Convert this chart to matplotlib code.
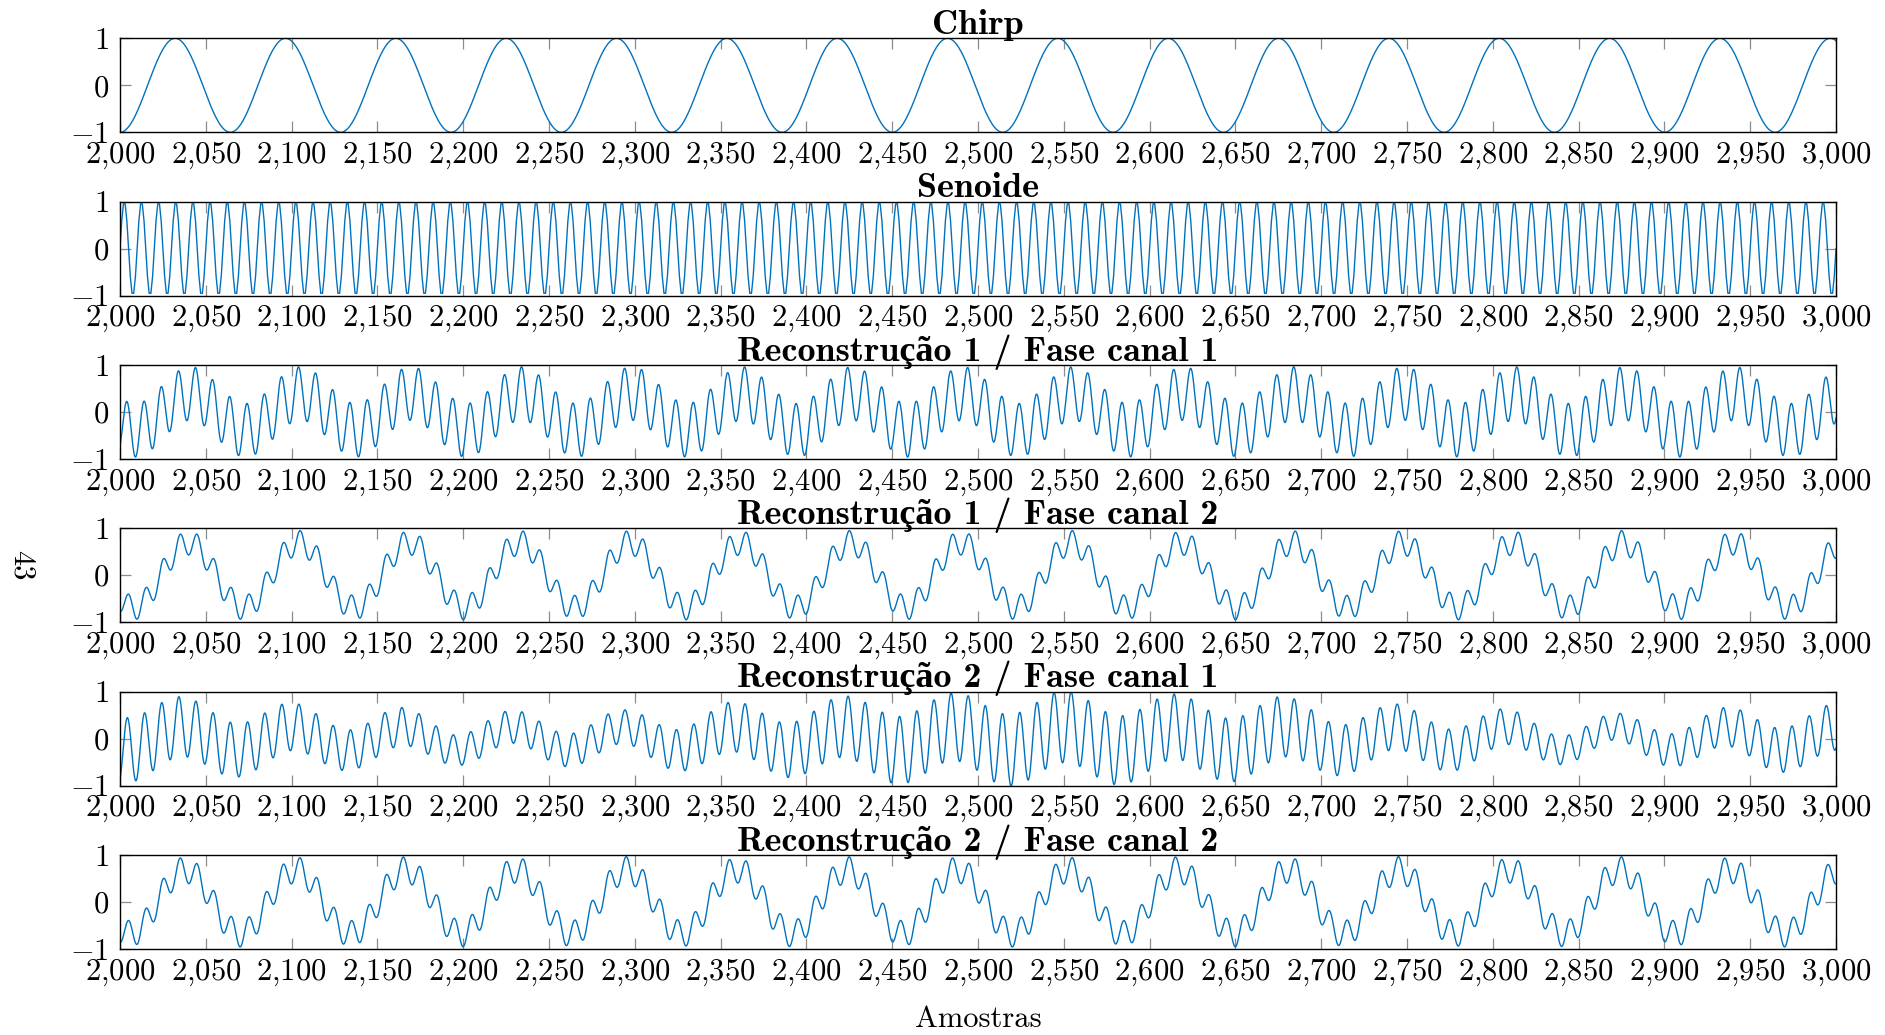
import numpy as np
import matplotlib
matplotlib.use('Agg')
import matplotlib.pyplot as plt

plt.rcParams['mathtext.fontset'] = 'cm'
plt.rcParams['font.family'] = ['cmr10', 'DejaVu Serif']
plt.rcParams['axes.unicode_minus'] = False

# ---------------- data ----------------
titles = ["Chirp", "Senoide",
          "Reconstrução 1 / Fase canal 1",
          "Reconstrução 1 / Fase canal 2",
          "Reconstrução 2 / Fase canal 1",
          "Reconstrução 2 / Fase canal 2"]
x_label = "Amostras"
page_number = "43"

sample_start = 2000
sample_end = 3000

x_ticks = [2000, 2050, 2100, 2150, 2200, 2250, 2300, 2350, 2400, 2450, 2500,
           2550, 2600, 2650, 2700, 2750, 2800, 2850, 2900, 2950, 3000]
x_tick_labels = ["2,000", "2,050", "2,100", "2,150", "2,200", "2,250", "2,300",
                 "2,350", "2,400", "2,450", "2,500", "2,550", "2,600", "2,650",
                 "2,700", "2,750", "2,800", "2,850", "2,900", "2,950", "3,000"]
y_ticks = [-1, 0, 1]
y_tick_labels = ["-1", "0", "1"]

# periods (samples) measured on the picture
chirp_period = 64.3
sine_period = 10.0

# slow (chirp-like) component: amplitude and sample of a crest, per panel
slow_amp = {"rec1_c1": 0.39, "rec1_c2": 0.69, "rec2_c1": 0.25, "rec2_c2": 0.68}
slow_crest = {"rec1_c1": 2041, "rec1_c2": 2040, "rec2_c1": 2036, "rec2_c2": 2038}
# fast (sine-like) component: crest sample per panel
fast_crest = {"rec1_c1": 2004.0, "rec1_c2": 2005.0, "rec2_c1": 2004.3, "rec2_c2": 2005.0}
# fast component amplitude envelope read at several samples
fast_env_t = {
    "rec1_c1": [2000, 3000],
    "rec1_c2": [2000, 3000],
    "rec2_c1": [2000, 2036, 2074, 2104, 2134, 2164, 2195, 2225, 2255, 2295, 2325,
                2355, 2385, 2425, 2450, 2485, 2510, 2544, 2579, 2609, 2640, 2674,
                2706, 2737, 2769, 2804, 2834, 2869, 2899, 2930, 2960, 3000],
    "rec2_c2": [2000, 3000],
}
fast_env_a = {
    "rec1_c1": [0.57, 0.57],
    "rec1_c2": [0.26, 0.26],
    "rec2_c1": [0.70, 0.64, 0.56, 0.50, 0.43, 0.41, 0.32, 0.35, 0.35, 0.36, 0.44,
                0.53, 0.57, 0.66, 0.72, 0.72, 0.76, 0.77, 0.74, 0.70, 0.68, 0.66,
                0.55, 0.49, 0.46, 0.39, 0.31, 0.28, 0.34, 0.40, 0.46, 0.50],
    "rec2_c2": [0.28, 0.28],
}
panel_keys = [None, None, "rec1_c1", "rec1_c2", "rec2_c1", "rec2_c2"]

# ---------------- signals ----------------
t_dense = np.linspace(sample_start, sample_end, 10001)
n_int = np.arange(sample_start, sample_end + 1)

signals = []
signals.append((t_dense, -np.cos(2 * np.pi * (t_dense - sample_start) / chirp_period)))
signals.append((n_int, np.sin(2 * np.pi * (n_int - sample_start) / sine_period)))
for key in panel_keys[2:]:
    slow = slow_amp[key] * np.cos(2 * np.pi * (t_dense - slow_crest[key]) / chirp_period)
    env = np.interp(t_dense, fast_env_t[key], fast_env_a[key])
    fast = env * np.cos(2 * np.pi * (t_dense - fast_crest[key]) / sine_period)
    signals.append((t_dense, slow + fast))

# ---------------- figure ----------------
W, H = 1885, 1035
fig = plt.figure(figsize=(W / 100, H / 100), dpi=100)

left_px, right_px = 120, 1836
top0_px, step_px, height_px = 38.3, 163.3, 94.0
line_color = "#0072BD"
fs = 22
title_fs = 26

def mt(s):
    return r"$" + s.replace(",", "{,}") + r"$"

for i, (title, (x, y)) in enumerate(zip(titles, signals)):
    top = top0_px + i * step_px
    ax = fig.add_axes([left_px / W, 1 - (top + height_px) / H,
                       (right_px - left_px) / W, height_px / H])
    ax.plot(x, y, color=line_color, lw=1.0)
    ax.set_xlim(sample_start, sample_end)
    ax.set_ylim(-1, 1)
    ax.set_xticks(x_ticks)
    ax.set_xticklabels([mt(s) for s in x_tick_labels])
    ax.set_yticks(y_ticks)
    ax.set_yticklabels([mt(s) for s in y_tick_labels])
    ax.tick_params(direction="in", length=8, width=0.9, color="#8c8c8c",
                   top=True, right=True, labelsize=fs)
    ax.tick_params(axis="x", pad=6)
    ax.tick_params(axis="y", pad=8)
    for sp in ax.spines.values():
        sp.set_linewidth(1.0)
        sp.set_color("black")
    ax.set_title(title, fontsize=title_fs, fontweight="bold",
                 family=["cmb10", "Liberation Serif"], pad=3)

fig.text((left_px + right_px) / 2 / W, 1 - 1027 / H, x_label, fontsize=fs,
         ha="center", va="baseline")
fig.text(21.6 / W, 1 - 565 / H, page_number, fontsize=fs, rotation=-90,
         ha="center", va="center")

fig.savefig("out.png", dpi=100)
